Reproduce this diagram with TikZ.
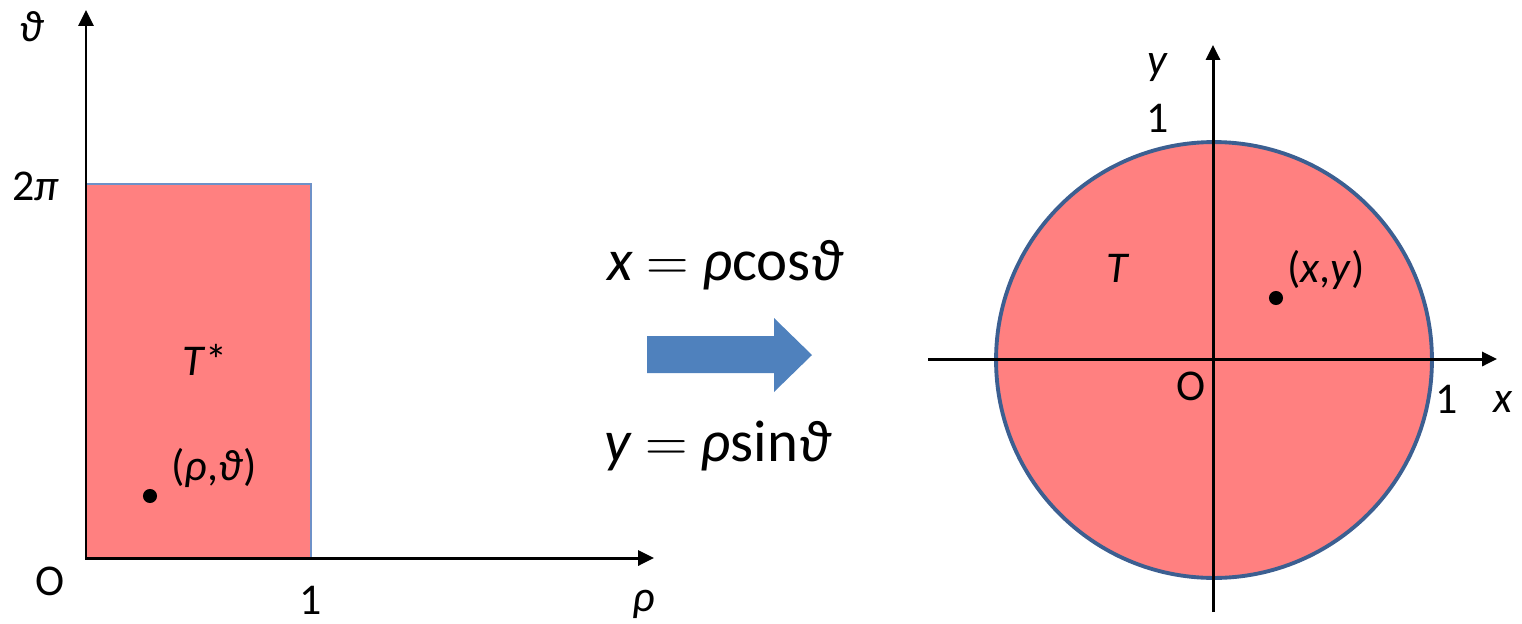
\RequirePackage{fix-cm}
\documentclass[tikz,border=0pt]{standalone}
\usepackage{fontspec}
\setmainfont{Carlito}
\usetikzlibrary{arrows.meta}
\definecolor{salmon}{RGB}{255,128,128}
\definecolor{rectedge}{RGB}{110,145,200}
\definecolor{circedge}{RGB}{60,95,145}
\definecolor{arrowblue}{RGB}{79,129,189}
\begin{document}
\begin{tikzpicture}[x=0.02cm,y=-0.02cm,
  axis/.style={line width=1.7pt,line join=miter},
  lbl/.style={font=\fontsize{25}{30}\selectfont,inner sep=0pt},
  eqn/.style={font=\fontsize{33.5}{40}\selectfont,inner sep=0pt},
  dotmark/.style={circle,fill=black,inner sep=0pt,minimum size=8pt}]
\useasboundingbox (0,0) rectangle (1522,623);
% ---------- left panel ----------
\fill[salmon] (86,184) rectangle (311,558);
\draw[rectedge,line width=1.4pt] (86,184) rectangle (311,558);
\coordinate (thtop) at (86,10);
\coordinate (O1) at (86,558);
\coordinate (rhoend) at (654,558);
\draw[axis,{Triangle[length=9pt,width=8.5pt]}-{Triangle[length=9pt,width=8.5pt]}] (thtop) -- (O1) -- (rhoend);
\node[lbl] (thlab) at (32,27) {\textit{ϑ}};
\node[lbl] (twopi) at (36,186) {2\textit{π}};
\node[lbl] (O1lab) at (50,581) {O};
\node[lbl] (onel) at (311,600) {1};
\node[lbl] (rholab) at (644,604) {\textit{ρ}};
\node[lbl] (Tstar) at (205,360) {\textit{T}*};
\node[dotmark] (p1) at (150,496) {};
\node[lbl] (p1lab) at (214,468) {(\textit{ρ},\textit{ϑ})};
% ---------- middle ----------
\node[eqn] (eqx) at (726,265) {\textit{x} $=$ \textit{ρ}cos\textit{ϑ}};
\node[eqn] (eqy) at (718,446) {\textit{y} $=$ \textit{ρ}sin\textit{ϑ}};
\fill[arrowblue] (647,336) -- (774,336) -- (774,318) -- (812,355) -- (774,392) -- (774,373) -- (647,373) -- cycle;
% ---------- right panel ----------
\coordinate (C) at (1214,360);
\fill[salmon,draw=circedge,line width=2.2pt] (C) circle[radius=4.36cm];
\coordinate (xstart) at (928,359);
\coordinate (xend) at (1497,359);
\coordinate (ybot) at (1213,612);
\coordinate (ytop) at (1213,45);
\draw[axis,-{Triangle[length=8.5pt,width=8pt]}] (xstart) -- (xend);
\draw[axis,-{Triangle[length=8.5pt,width=8pt]}] (ybot) -- (ytop);
\node[lbl] (ylab) at (1158,68) {\textit{y}};
\node[lbl] (oner) at (1158,118) {1};
\node[lbl] (Tlab) at (1118,268) {\textit{T}};
\node[dotmark] (p2) at (1276,298) {};
\node[lbl] (p2lab) at (1326,270) {(\textit{x},\textit{y})};
\node[lbl] (O2lab) at (1191,386) {O};
\node[lbl] (onex) at (1447,399) {1};
\node[lbl] (xlab) at (1503,402) {\textit{x}};
\end{tikzpicture}
\end{document}
